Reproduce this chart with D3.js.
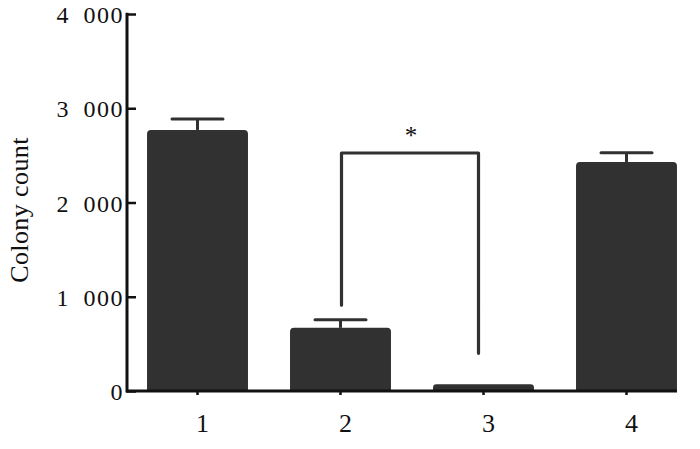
<!DOCTYPE html>
<html>
<head>
<meta charset="utf-8">
<script src="https://cdn.jsdelivr.net/npm/d3@7/dist/d3.min.js"></script>
<style>
  html, body { margin: 0; padding: 0; background: #fff; }
  svg { display: block; }
  text { font-family: "Liberation Serif", "DejaVu Serif", serif; fill: #111; }
</style>
</head>
<body>
<svg id="chart" width="700" height="449"></svg>
<script>
// ---- data ----
const categories = ["1", "2", "3", "4"];
const means = [2770, 670, 72, 2430];
const errors = [115, 85, 0, 98];
const yTicks = [0, 1000, 2000, 3000, 4000];
const yTickLabels = ["0", "1\u2002000", "2\u2002000", "3\u2002000", "4\u2002000"];
const yTitle = "Colony count";
// significance bracket: from category, to category, top value, left leg bottom, right leg bottom
const bracketFrom = "2", bracketTo = "3";
const bracketTop = 2525, bracketLeftBottom = 910, bracketRightBottom = 400;
const bracketLabel = "*";

const svg = d3.select("#chart");
const color = "#313131";

const x = d3.scaleBand().domain(categories).range([126, 126 + 4 * 143])
  .paddingInner(0.294).paddingOuter(0.147);
const y = d3.scaleLinear().domain([0, 4000]).range([391, 14]);

// bars with rounded top corners
const r = 4;
svg.append("g").selectAll("path").data(categories).join("path")
  .attr("fill", color)
  .attr("d", (c, i) => {
    const x0 = x(c), x1 = x(c) + x.bandwidth();
    const y0 = y(0), y1 = y(means[i]);
    const rr = Math.min(r, (y0 - y1) / 2);
    return `M${x0},${y0}L${x0},${y1 + rr}Q${x0},${y1} ${x0 + rr},${y1}L${x1 - rr},${y1}Q${x1},${y1} ${x1},${y1 + rr}L${x1},${y0}Z`;
  });

// error bars
const capW = 51;
const eg = svg.append("g").attr("stroke", color).attr("stroke-width", 3).attr("stroke-linecap", "round");
categories.forEach((c, i) => {
  if (!errors[i]) return;
  const cx = x(c) + x.bandwidth() / 2;
  eg.append("line").attr("x1", cx).attr("x2", cx).attr("y1", y(means[i])).attr("y2", y(means[i] + errors[i])).attr("stroke-linecap", "butt");
  eg.append("line").attr("x1", cx - capW / 2).attr("x2", cx + capW / 2).attr("y1", y(means[i] + errors[i])).attr("y2", y(means[i] + errors[i]));
});

// bracket
const bx0 = x(bracketFrom) + x.bandwidth() / 2 + 1;
const bx1 = x(bracketTo) + x.bandwidth() / 2 - 5;
svg.append("path")
  .attr("fill", "none").attr("stroke", color).attr("stroke-width", 3.2)
  .attr("stroke-linecap", "round").attr("stroke-linejoin", "round")
  .attr("d", `M${bx0},${y(bracketLeftBottom)}L${bx0},${y(bracketTop)}L${bx1},${y(bracketTop)}L${bx1},${y(bracketRightBottom)}`);
svg.append("text").attr("x", (bx0 + bx1) / 2 + 1).attr("y", y(bracketTop) - 9)
  .attr("text-anchor", "middle").attr("font-size", 25).text(bracketLabel);

// y axis
const yAxis = d3.axisRight(y).tickValues(yTicks).tickSize(9).tickFormat((d, i) => yTickLabels[i]);
const ya = svg.append("g").attr("transform", `translate(${x.range()[0] + 1},0)`).call(yAxis);
ya.select(".domain").remove();
ya.selectAll(".tick line").attr("stroke", "#111").attr("stroke-width", 2.5);
ya.selectAll(".tick text").attr("x", -3).attr("dy", "0.36em").attr("text-anchor", "end")
  .attr("font-size", 24).attr("letter-spacing", 1.5)
  .attr("font-family", "Liberation Serif, serif").attr("fill", "#111");
ya.append("line").attr("x1", 0).attr("x2", 0).attr("y1", y(4000) - 1.25).attr("y2", y(0) + 1.5)
  .attr("stroke", "#111").attr("stroke-width", 3);

// x axis
const xAxis = d3.axisBottom(x).tickSize(4).tickFormat(d => d);
const xa = svg.append("g").attr("transform", `translate(0,${y(0)})`).call(xAxis);
xa.select(".domain").remove();
xa.selectAll(".tick line").attr("stroke", "#111").attr("stroke-width", 2.5);
xa.selectAll(".tick text").attr("dy", 0).attr("y", 41).attr("dx", 5)
  .attr("font-size", 26).attr("font-family", "Liberation Serif, serif").attr("fill", "#111");
const last = categories[categories.length - 1];
xa.append("line").attr("x1", x.range()[0]).attr("x2", x(last) + x.bandwidth())
  .attr("y1", 0).attr("y2", 0).attr("stroke", "#111").attr("stroke-width", 3);

// y title
svg.append("text").attr("transform", `translate(27.5,210) rotate(-90)`)
  .attr("text-anchor", "middle").attr("font-size", 26).attr("letter-spacing", 0.4).text(yTitle);
</script>
</body>
</html>
